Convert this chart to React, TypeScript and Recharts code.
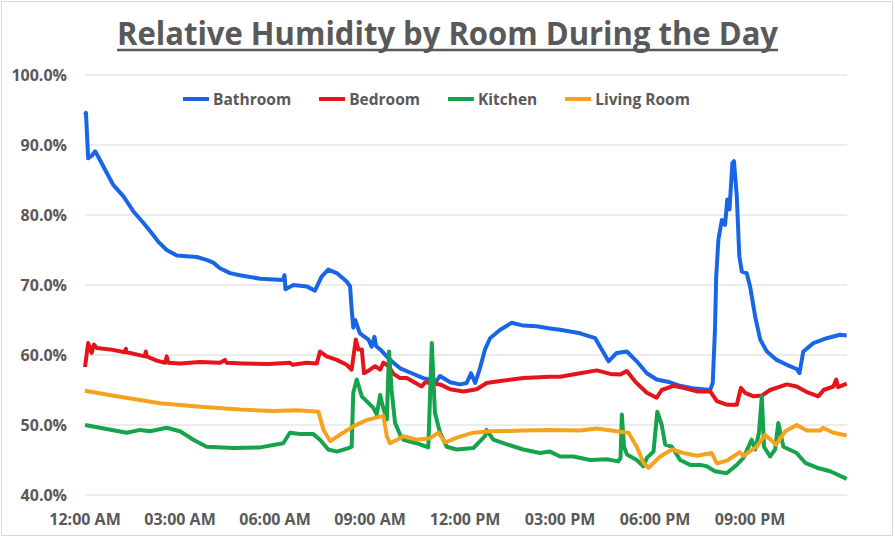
import React from 'react';
import { LineChart, Line, XAxis, YAxis, CartesianGrid } from 'recharts';

// ---- data (hour of day, relative humidity %) ----
const bathroom: [number, number][] = [
  [0.0, 94.3], [0.03, 94.6], [0.1, 88.1], [0.22, 88.5], [0.32, 89.1], [0.47, 87.9], [0.69, 86.0], [0.89, 84.3],
  [1.21, 82.7], [1.53, 80.5], [1.84, 78.9], [2.11, 77.4], [2.31, 76.2], [2.58, 75.0], [2.9, 74.2], [3.21, 74.1],
  [3.53, 74.0], [3.84, 73.6], [4.05, 73.2], [4.26, 72.4], [4.58, 71.7], [4.89, 71.4], [5.53, 70.9], [6.25, 70.7],
  [6.3, 71.4], [6.33, 69.4], [6.58, 70.0], [7.0, 69.8], [7.26, 69.2], [7.47, 71.2], [7.68, 72.2], [7.95, 71.7],
  [8.26, 70.5], [8.37, 69.8], [8.42, 66.5], [8.47, 63.9], [8.53, 65.0], [8.68, 63.1], [8.95, 62.2], [9.05, 61.2],
  [9.14, 62.6], [9.19, 61.3], [9.32, 60.8], [9.63, 59.3], [9.95, 58.1], [10.26, 57.5], [10.68, 56.7], [10.89, 56.5],
  [11.08, 56.2], [11.21, 57.0], [11.53, 56.1], [11.84, 55.8], [12.05, 56.0], [12.19, 57.4], [12.32, 56.0], [12.47, 58.1],
  [12.63, 60.8], [12.79, 62.4], [13.11, 63.6], [13.47, 64.6], [13.84, 64.2], [14.26, 64.1], [14.68, 63.8], [15.0, 63.6],
  [15.63, 63.1], [16.11, 62.4], [16.26, 61.2], [16.53, 59.1], [16.79, 60.3], [17.11, 60.5], [17.42, 59.1], [17.74, 57.4],
  [18.05, 56.5], [18.47, 56.1], [18.79, 55.6], [19.26, 55.2], [19.74, 55.0], [19.82, 56.0], [19.89, 63.5], [19.93, 71.2],
  [20.0, 76.5], [20.11, 79.3], [20.21, 78.6], [20.28, 82.2], [20.35, 80.8], [20.44, 87.4], [20.49, 87.7], [20.58, 82.7],
  [20.66, 74.1], [20.74, 71.9], [20.89, 71.7], [21.0, 69.8], [21.16, 65.5], [21.32, 62.2], [21.53, 60.5], [21.84, 59.3],
  [22.16, 58.6], [22.47, 58.0], [22.56, 57.4], [22.68, 60.5], [23.0, 61.7], [23.42, 62.4], [23.84, 62.9], [24.05, 62.8],
];

const bedroom: [number, number][] = [
  [0.0, 58.3], [0.1, 61.7], [0.21, 60.3], [0.28, 61.5], [0.37, 61.0], [0.79, 60.8], [1.26, 60.4], [1.29, 60.9],
  [1.32, 60.4], [1.89, 59.8], [1.92, 60.5], [1.95, 59.8], [2.26, 59.2], [2.53, 58.9], [2.58, 59.8], [2.63, 58.9],
  [3.0, 58.8], [3.63, 59.0], [4.26, 58.9], [4.42, 59.3], [4.47, 58.9], [5.0, 58.8], [5.79, 58.7], [6.47, 58.9],
  [6.55, 58.6], [7.0, 58.9], [7.32, 58.8], [7.42, 60.5], [7.63, 59.8], [7.95, 59.3], [8.26, 58.6], [8.42, 57.9],
  [8.55, 62.2], [8.63, 60.8], [8.74, 60.8], [8.81, 57.4], [9.0, 57.9], [9.16, 58.4], [9.32, 57.9], [9.42, 58.9],
  [9.58, 58.4], [9.74, 57.3], [9.95, 56.7], [10.16, 56.7], [10.63, 55.5], [10.74, 56.1], [11.21, 55.8], [11.53, 55.1],
  [11.95, 54.8], [12.37, 55.1], [12.68, 56.0], [13.11, 56.3], [13.84, 56.7], [14.68, 56.9], [15.0, 56.9], [15.63, 57.4],
  [16.16, 57.8], [16.58, 57.3], [16.89, 57.2], [17.11, 57.7], [17.37, 56.2], [17.74, 54.6], [18.05, 53.9], [18.21, 55.0],
  [18.58, 55.6], [18.89, 55.3], [19.32, 54.8], [19.74, 54.8], [19.95, 53.4], [20.26, 52.9], [20.58, 52.9], [20.71, 55.3],
  [20.84, 54.6], [21.11, 54.1], [21.37, 54.2], [21.63, 55.0], [22.16, 55.8], [22.47, 55.5], [22.79, 54.7], [23.16, 54.1],
  [23.32, 55.0], [23.63, 55.5], [23.72, 56.5], [23.78, 55.4], [24.05, 55.9],
];

const kitchen: [number, number][] = [
  [0.0, 50.0], [0.47, 49.6], [1.32, 48.9], [1.74, 49.3], [2.05, 49.1], [2.58, 49.6], [3.0, 49.1], [3.42, 47.9],
  [3.84, 46.9], [4.68, 46.7], [5.53, 46.8], [6.26, 47.4], [6.47, 48.9], [6.79, 48.7], [7.21, 48.7], [7.42, 47.9],
  [7.68, 46.5], [7.95, 46.2], [8.32, 46.7], [8.42, 46.9], [8.47, 54.6], [8.58, 56.5], [8.74, 54.1], [8.89, 53.4],
  [9.11, 52.4], [9.21, 51.5], [9.32, 54.3], [9.4, 52.7], [9.53, 50.8], [9.6, 60.5], [9.68, 55.0], [9.79, 50.3],
  [9.95, 48.6], [10.05, 47.9], [10.47, 47.4], [10.84, 46.8], [10.95, 61.7], [11.05, 51.7], [11.21, 48.9], [11.42, 46.9],
  [11.74, 46.5], [12.26, 46.7], [12.63, 48.4], [12.68, 49.3], [12.89, 47.9], [13.21, 47.4], [13.84, 46.5], [14.37, 46.0],
  [14.68, 46.2], [15.0, 45.5], [15.42, 45.5], [15.95, 45.0], [16.47, 45.1], [16.84, 44.8], [16.91, 45.3], [16.95, 51.5],
  [17.02, 46.9], [17.11, 45.8], [17.42, 45.0], [17.63, 44.1], [17.74, 45.3], [17.95, 46.2], [18.07, 51.9], [18.21, 50.0],
  [18.32, 47.2], [18.53, 46.9], [18.79, 45.0], [19.11, 44.3], [19.42, 44.3], [19.63, 44.1], [19.89, 43.4], [20.26, 43.1],
  [20.58, 44.3], [20.79, 45.3], [21.05, 47.9], [21.16, 46.5], [21.28, 48.9], [21.37, 54.1], [21.44, 46.9], [21.63, 45.5],
  [21.79, 46.5], [21.89, 50.3], [22.05, 46.9], [22.47, 46.0], [22.74, 44.6], [23.11, 43.9], [23.53, 43.4], [24.05, 42.3],
];

const livingRoom: [number, number][] = [
  [0.0, 54.9], [1.0, 54.1], [2.37, 53.1], [3.63, 52.6], [4.89, 52.2], [5.95, 52.0], [6.68, 52.1], [7.37, 51.9],
  [7.53, 49.3], [7.74, 47.7], [8.05, 48.6], [8.47, 49.8], [8.89, 50.7], [9.32, 51.2], [9.42, 51.3], [9.53, 48.4],
  [9.63, 47.4], [9.95, 48.1], [10.05, 48.4], [10.47, 47.9], [10.89, 48.1], [11.16, 48.9], [11.37, 47.5], [11.74, 48.2],
  [12.26, 48.9], [12.79, 49.1], [13.84, 49.2], [14.68, 49.3], [15.63, 49.2], [16.16, 49.5], [16.79, 49.1], [17.16, 48.9],
  [17.42, 46.9], [17.63, 44.6], [17.79, 43.9], [18.16, 45.5], [18.53, 46.5], [18.89, 46.0], [19.32, 45.6], [19.79, 46.0],
  [19.95, 44.5], [20.26, 44.9], [20.68, 46.1], [20.79, 45.6], [21.21, 46.9], [21.47, 48.6], [21.82, 47.2], [22.11, 49.1],
  [22.47, 50.0], [22.79, 49.2], [23.21, 49.2], [23.3, 49.6], [23.63, 48.9], [24.05, 48.5],
];

const seriesNames = ['Bathroom', 'Bedroom', 'Kitchen', 'Living Room'];
const seriesKeys = ['bathroom', 'bedroom', 'kitchen', 'livingRoom'];
const seriesData = [bathroom, bedroom, kitchen, livingRoom];

const xTickHours = [0, 3, 6, 9, 12, 15, 18, 21];
const xTickLabels = ['12:00 AM', '03:00 AM', '06:00 AM', '09:00 AM', '12:00 PM', '03:00 PM', '06:00 PM', '09:00 PM'];
const yTicks = [40, 50, 60, 70, 80, 90, 100];

const titleText = 'Relative Humidity by Room During the Day';

// ---- styles ----
const seriesColors = ['#1866E5', '#E5141B', '#17A34B', '#F5A21E'];
const textColor = '#595959';
const fontFamily = '"Open Sans", "DejaVu Sans", sans-serif';

// merged table for recharts
const tableMap = new Map<number, Record<string, number>>();
seriesData.forEach((arr, i) => {
  arr.forEach(([t, v]) => {
    const row = tableMap.get(t) ?? { t };
    row[seriesKeys[i]] = v;
    tableMap.set(t, row);
  });
});
const table = Array.from(tableMap.values()).sort((a, b) => a.t - b.t);

const xLabel = (h: number) => {
  const i = xTickHours.indexOf(h);
  return i >= 0 ? xTickLabels[i] : '';
};

export default function App() {
  return (
    <div style={{ position: 'absolute', left: 0, top: 0, width: 895, height: 539, background: '#fff', fontFamily }}>
      <div
        style={{
          position: 'absolute', left: 1, top: 1, width: 892, height: 535,
          border: '1px solid #d9d9d9', boxSizing: 'border-box',
        }}
      />
      <svg width={895} height={70} style={{ position: 'absolute', left: 0, top: 0 }}>
        <text
          x={117}
          y={45}
          textLength={661}
          lengthAdjust="spacingAndGlyphs"
          fontFamily={fontFamily}
          fontWeight={700}
          fontSize={32}
          fill={textColor}
        >
          {titleText}
        </text>
        <line x1={117} x2={778} y1={50} y2={50} stroke={textColor} strokeWidth={2.5} />
      </svg>
      <LineChart
        width={895}
        height={539}
        data={table}
        margin={{ top: 75, right: 48, bottom: 14, left: 0 }}
        style={{ position: 'absolute', left: 0, top: 0 }}
      >
        <CartesianGrid horizontal vertical={false} stroke="#d9d9d9" strokeWidth={1} />
        <XAxis
          dataKey="t"
          type="number"
          domain={[0, 24.06]}
          ticks={xTickHours}
          tickFormatter={xLabel}
          axisLine={false}
          tickLine={false}
          tickSize={0}
          tickMargin={19}
          height={30}
          interval={0}
          tick={{ fill: textColor, fontSize: 16, fontWeight: 700, fontFamily }}
        />
        <YAxis
          type="number"
          domain={[40, 100]}
          ticks={yTicks}
          tickFormatter={(v: number) => `${v.toFixed(1)}%`}
          axisLine={false}
          tickLine={false}
          tickSize={0}
          tickMargin={18}
          width={85}
          interval={0}
          tick={{ fill: textColor, fontSize: 16, fontWeight: 700, fontFamily }}
        />
        {seriesKeys.map((k, i) => (
          <Line
            key={k}
            dataKey={k}
            name={seriesNames[i]}
            type="linear"
            stroke={seriesColors[i]}
            strokeWidth={4}
            dot={false}
            connectNulls
            strokeLinejoin="round"
            isAnimationActive={false}
          />
        ))}
      </LineChart>
      <div
        style={{
          position: 'absolute', left: 183, top: 88, display: 'flex', alignItems: 'center', gap: 28,
          fontFamily, fontWeight: 700, fontSize: 15.5, color: textColor, lineHeight: '22px',
        }}
      >
        {seriesNames.map((n, i) => (
          <div key={n} style={{ display: 'flex', alignItems: 'center' }}>
            <span style={{ display: 'inline-block', width: 26, height: 4, background: seriesColors[i], marginRight: 4 }} />
            <span>{n}</span>
          </div>
        ))}
      </div>
    </div>
  );
}
